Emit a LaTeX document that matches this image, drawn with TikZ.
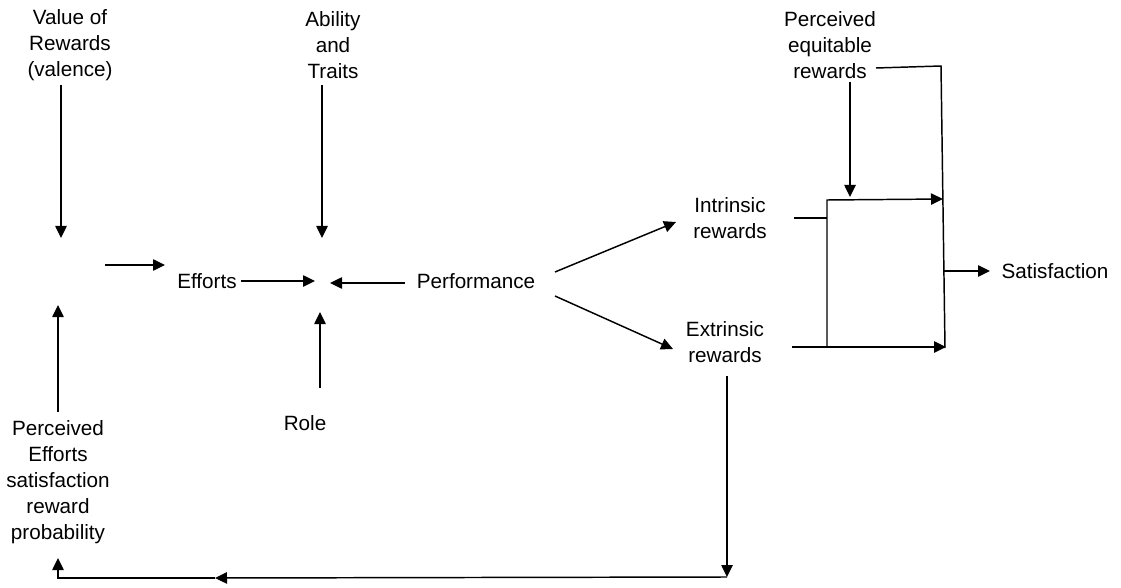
\documentclass[tikz,border=0pt]{standalone}
\usepackage{fontspec}
\setmainfont{Liberation Sans}
\usetikzlibrary{arrows.meta}
\begin{document}
\begin{tikzpicture}[x=0.75pt,y=-0.75pt,
  lbl/.style={inner sep=0pt,align=center,font=\fontsize{15.5}{19.5}\selectfont},
  ar/.style={-{Triangle[length=9pt,width=8.5pt]},line width=1.1pt},
  ln/.style={line width=1.1pt}]
\useasboundingbox (0,0) rectangle (1121,588);
\node[lbl] (val) at (70,45) {Value of\\Rewards\\(valence)};
\node[lbl] (abl) at (333,45) {Ability\\and\\Traits};
\node[lbl] (pev) at (830,45) {Perceived\\equitable\\rewards};
\node[lbl] (eff) at (207,281) {Efforts};
\node[lbl] (perf) at (476,281) {Performance};
\node[lbl] (role) at (305,423) {Role};
\node[lbl] (prob) at (58,482) {Perceived\\Efforts\\satisfaction\\reward\\probability};
\node[lbl] (intr) at (730,218) {Intrinsic\\rewards};
\node[lbl] (extr) at (725,342) {Extrinsic\\rewards};
\node[lbl] (sat) at (1055,271) {Satisfaction};
% junction coordinates
\coordinate (v1) at (61,85);
\coordinate (v2) at (61,238);
\coordinate (e1) at (105,265);
\coordinate (e2) at (165,265);
\coordinate (c1) at (315,281);
\coordinate (c2) at (330,283);
\coordinate (a1) at (322,85);
\coordinate (a2) at (322,238);
\coordinate (r1) at (320,388);
\coordinate (r2) at (320,312);
\coordinate (p1) at (58,412);
\coordinate (p2) at (58,305);
\coordinate (b1) at (727,376);
\coordinate (b2) at (727,577);
\coordinate (b3) at (215,578);
\coordinate (b4) at (58,578);
\coordinate (b5) at (58,558);
\coordinate (q1) at (555,272);
\coordinate (q2) at (676,222);
\coordinate (q3) at (555,296);
\coordinate (q4) at (673,349);
\coordinate (t1) at (876,68);
\coordinate (t2) at (941,66);
\coordinate (t3) at (945,348);
\coordinate (d1) at (850,82);
\coordinate (d2) at (850,197);
\coordinate (i1) at (794,218);
\coordinate (i2) at (827,218);
\coordinate (i3) at (827,200);
\coordinate (i4) at (943,199);
\coordinate (i5) at (827,347);
\coordinate (x1) at (792,347);
\coordinate (x2) at (946,347);
\coordinate (s1) at (943,271);
\coordinate (s2) at (990,271);
\draw[ar] (v1) -- (v2);
\draw[ar] (e1) -- (e2);
\draw[ar] (eff.east) ++(4,0) coordinate (ee) -- (c1);
\draw[ar] (perf.west) ++(-12,2) coordinate (pw) -- (c2);
\draw[ar] (a1) -- (a2);
\draw[ar] (r1) -- (r2);
\draw[ar] (p1) -- (p2);
\draw[ar] (b1) -- (b2);
\draw[ar] (b2) -- (b3);
\draw[ar] (b3) -- (b4) -- (b5);
\draw[ar] (q1) -- (q2);
\draw[ar] (q3) -- (q4);
\draw[ln] (t1) -- (t2) -- (t3);
\draw[ar] (d1) -- (d2);
\draw[ln] (i1) -- (i2);
\draw[ar] (i5) -- (i3) -- (i4);
\draw[ar] (x1) -- (x2);
\draw[ar] (s1) -- (s2);
\end{tikzpicture}
\end{document}
